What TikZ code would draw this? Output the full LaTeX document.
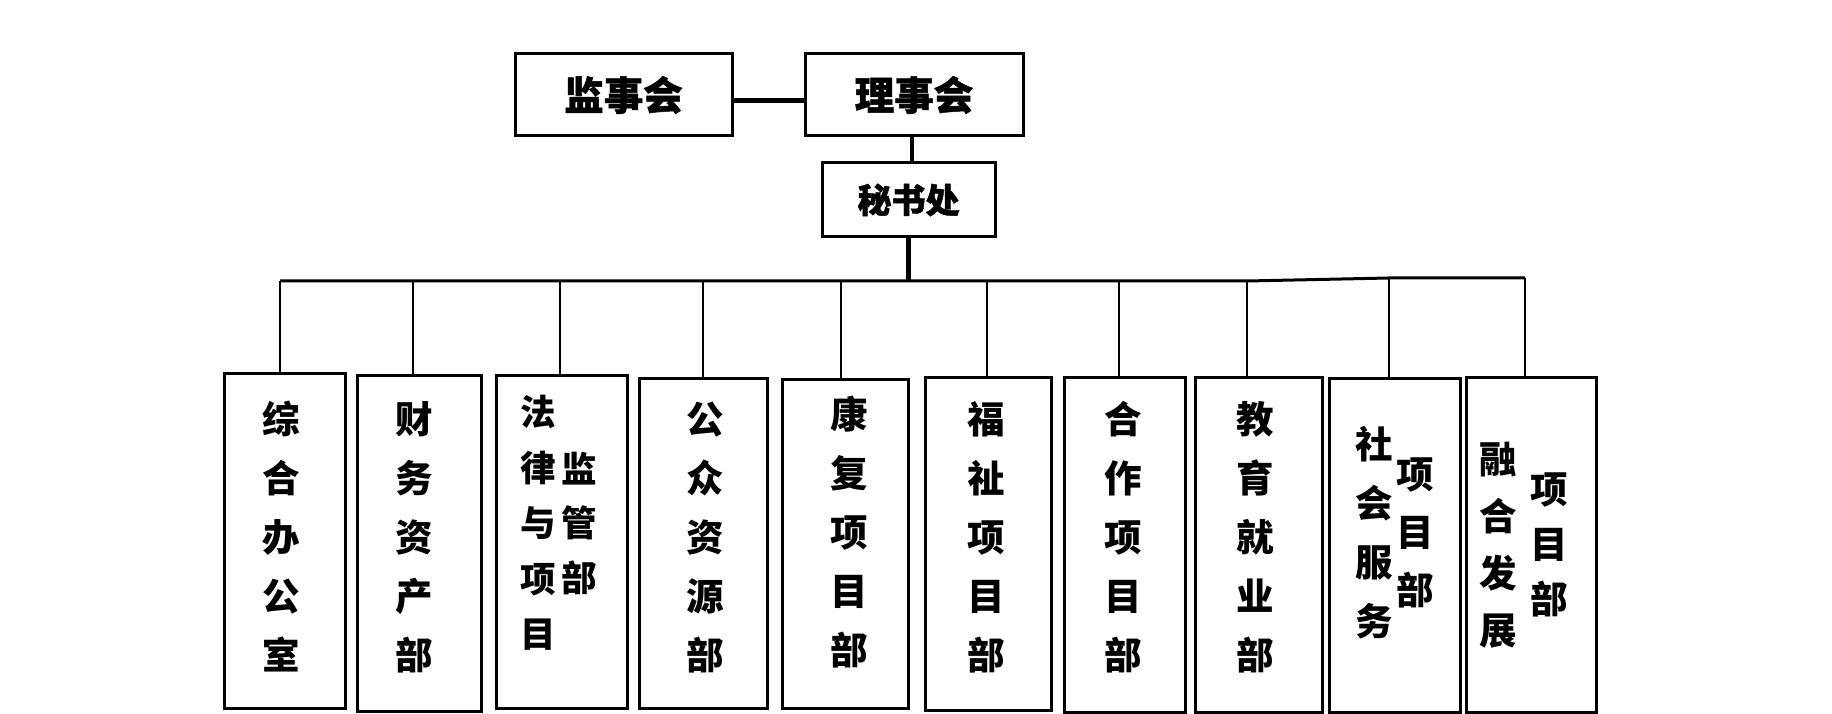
\documentclass[tikz,border=0pt]{standalone}
\usepackage{fontspec}
\newfontfamily\cjk{Noto Sans CJK SC}
\newfontfamily\cjkheavy{Noto Sans CJK SC}[BoldFeatures={FakeBold=1.2}]
\begin{document}
\begin{tikzpicture}[x=1pt,y=-1pt,
  topbox/.style={draw=black,line width=3pt,inner sep=0pt,font=\cjkheavy\bfseries\fontsize{39.5}{40}\selectfont},
  deptbox/.style={draw=black,line width=3pt,inner sep=0pt},
  vtext/.style={inner sep=0pt,align=center,font=\cjk\bfseries\fontsize{37.5}{59}\selectfont},
  vtextb/.style={inner sep=0pt,align=center,font=\cjk\bfseries\fontsize{35.5}{55.5}\selectfont},
  heavy/.style={line width=5pt},
  busline/.style={line width=3pt},
  drop/.style={line width=2.5pt}]
\useasboundingbox[fill=white] (0,0) rectangle (1832,714);
% top
\node[topbox,minimum width=217pt,minimum height=82pt] (jian) at (623.5,95) {监事会};
\node[topbox,minimum width=218pt,minimum height=82pt] (li) at (914,95) {理事会};
\node[topbox,minimum width=173pt,minimum height=74pt,font=\cjkheavy\bfseries\fontsize{34}{36}\selectfont] (mi) at (908.5,200) {秘书处};
\draw[heavy] ([yshift=-6pt]jian.east) -- ([yshift=-6pt]li.west);
\draw[line width=4.5pt] ([xshift=-2pt]li.south) -- ([xshift=-2pt]li.south |- mi.north);
% bus
\coordinate (t1) at (280,281);
\coordinate (t2) at (413,281);
\coordinate (t3) at (560,281);
\coordinate (t4) at (703,281);
\coordinate (t5) at (841,281);
\coordinate (t6) at (987,281);
\coordinate (t7) at (1119,281);
\coordinate (t8) at (1247,281);
\coordinate (t9) at (1389,278);
\coordinate (t10) at (1525,278);
\coordinate (tm) at (909,281);
\draw[heavy] (mi.south) -- (mi.south |- tm);
\draw[busline] (t1) -- (t8) -- (t9) -- (t10);
% department boxes
\node[deptbox,minimum width=121pt,minimum height=335pt] (b1) at (284.5,540.5) {};
\node[deptbox,minimum width=124pt,minimum height=336pt] (b2) at (419,543) {};
\node[deptbox,minimum width=131pt,minimum height=333pt] (b3) at (561.5,541.5) {};
\node[deptbox,minimum width=128pt,minimum height=330pt] (b4) at (703,543) {};
\node[deptbox,minimum width=126pt,minimum height=329pt] (b5) at (845,543.5) {};
\node[deptbox,minimum width=126pt,minimum height=333pt] (b6) at (988,543.5) {};
\node[deptbox,minimum width=121pt,minimum height=335pt] (b7) at (1124.5,544.5) {};
\node[deptbox,minimum width=127pt,minimum height=335pt] (b8) at (1258.5,544.5) {};
\node[deptbox,minimum width=131pt,minimum height=334pt] (b9) at (1394.5,545) {};
\node[deptbox,minimum width=130pt,minimum height=335pt] (b10) at (1531,544.5) {};
\foreach \i in {1,...,10} {\draw[drop] (t\i) -- (t\i |- b\i.north);}
% texts
\node[vtext] (x1) at (281,537) {综\\合\\办\\公\\室};
\node[vtext] (x2) at (414,537) {财\\务\\资\\产\\部};
\node[vtextb] (x3a) at (538,523) {法\\律\\与\\项\\目};
\node[vtextb,font=\cjk\bfseries\fontsize{35.5}{54.5}\selectfont] (x3b) at (579,523.5) {监\\管\\部};
\node[vtext] (x4) at (705,537) {公\\众\\资\\源\\部};
\node[vtext] (x5) at (849,532) {康\\复\\项\\目\\部};
\node[vtext] (x6) at (986,537) {福\\祉\\项\\目\\部};
\node[vtext] (x7) at (1123.5,537) {合\\作\\项\\目\\部};
\node[vtext] (x8) at (1255.5,537) {教\\育\\就\\业\\部};
\node[vtext] (x9a) at (1374,533) {社\\会\\服\\务};
\node[vtext,font=\cjk\bfseries\fontsize{37.5}{58}\selectfont] (x9b) at (1415,532.5) {项\\目\\部};
\node[vtext,font=\cjk\bfseries\fontsize{37.5}{57}\selectfont] (x10a) at (1498,545) {融\\合\\发\\展};
\node[vtext,font=\cjk\bfseries\fontsize{37.5}{55}\selectfont] (x10b) at (1549.5,544.5) {项\\目\\部};
\end{tikzpicture}
\end{document}
